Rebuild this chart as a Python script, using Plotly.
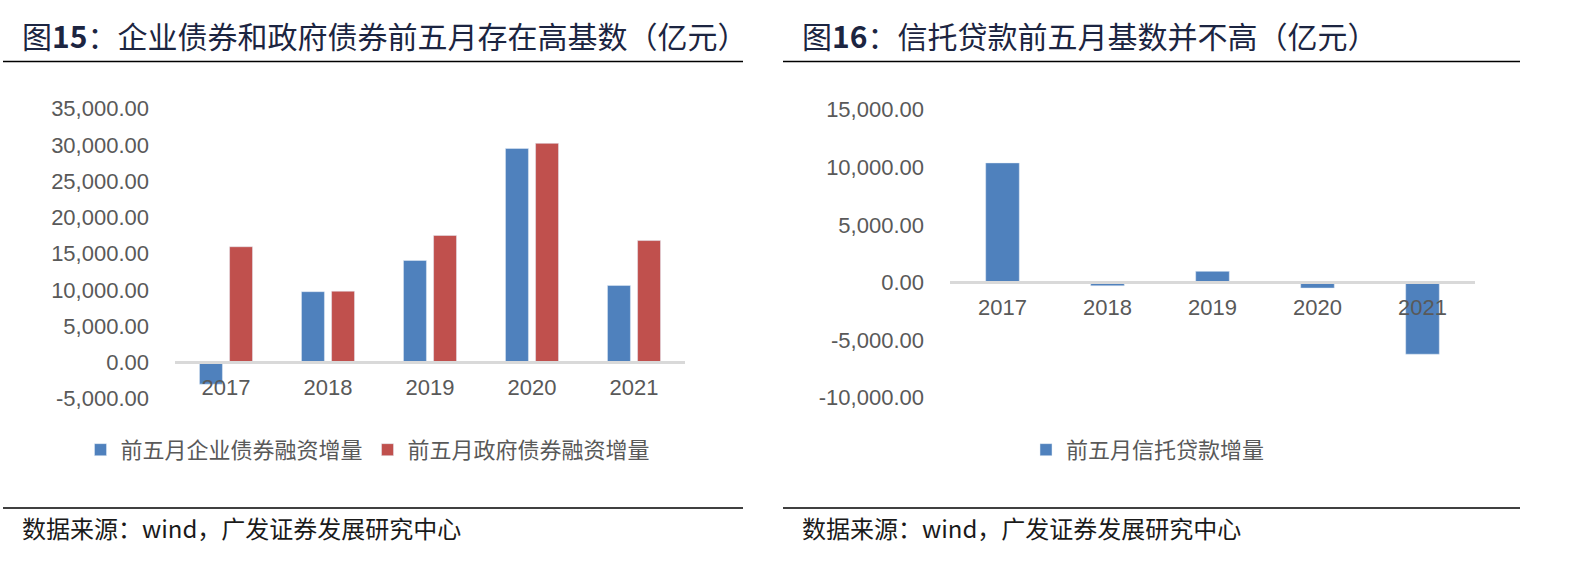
import plotly.graph_objects as go

# ---------------- data ----------------
years = ["2017", "2018", "2019", "2020", "2021"]
corp_bond = [-3000, 9750, 14050, 29500, 10600]      # 前五月企业债券融资增量
gov_bond = [15950, 9820, 17500, 30200, 16800]       # 前五月政府债券融资增量
trust_loan = [10370, -290, 960, -490, -6230]        # 前五月信托贷款增量

left_tickvals = [-5000, 0, 5000, 10000, 15000, 20000, 25000, 30000, 35000]
left_ticktext = ["-5,000.00", "0.00", "5,000.00", "10,000.00", "15,000.00",
                 "20,000.00", "25,000.00", "30,000.00", "35,000.00"]
right_tickvals = [-10000, -5000, 0, 5000, 10000, 15000]
right_ticktext = ["-10,000.00", "-5,000.00", "0.00", "5,000.00", "10,000.00", "15,000.00"]

name_corp = "前五月企业债券融资增量"
name_gov = "前五月政府债券融资增量"
name_trust = "前五月信托贷款增量"

title_left = "图<b>15</b>：企业债券和政府债券前五月存在高基数（亿元）"
title_right = "图<b>16</b>：信托贷款前五月基数并不高（亿元）"
source_text = "数据来源：wind，广发证券发展研究中心"

# ---------------- layout helpers ----------------
W, H = 1570, 576


def fx(p):
    return p / W


def fy(p):
    # pixel row (from top) -> paper fraction, with a small vertical calibration
    q = (p - 10.8) / 0.953
    return 1 - q / H


BLUE = "#4f81bd"
RED = "#c0504d"
TICK_COLOR = "#595959"
NUM_FONT = "Liberation Sans, Arial, sans-serif"
CJK_FONT = "Noto Sans CJK SC, sans-serif"

L_YR = [-5000, 35000]
R_YR = [-10000, 15000]
L_YD = [fy(396), fy(107)]
R_YD = [fy(395), fy(108)]


def zero_pos(dom, rng):
    return dom[0] + (dom[1] - dom[0]) * (0 - rng[0]) / (rng[1] - rng[0])


fig = go.Figure()
fig.add_trace(go.Bar(x=years, y=corp_bond, name=name_corp, marker_color=BLUE,
                     width=0.225, offset=-0.26, xaxis="x", yaxis="y", legend="legend"))
fig.add_trace(go.Bar(x=years, y=gov_bond, name=name_gov, marker_color=RED,
                     width=0.225, offset=0.035, xaxis="x", yaxis="y", legend="legend"))
fig.add_trace(go.Bar(x=years, y=trust_loan, name=name_trust, marker_color=BLUE,
                     width=0.32, offset=-0.16, xaxis="x2", yaxis="y2", legend="legend2"))

xcommon = dict(type="category", range=[-0.5, 4.5], showgrid=False, zeroline=False,
               showline=True, linecolor="#d9d9d9", linewidth=2.5, ticks="",
               tickfont=dict(family=NUM_FONT, size=22, color=TICK_COLOR),
               ticklabelstandoff=4, anchor="free", fixedrange=True)
ycommon = dict(showgrid=False, zeroline=False, showline=False, ticks="",
               tickfont=dict(family=NUM_FONT, size=22, color=TICK_COLOR),
               ticklabelstandoff=25, fixedrange=True)

fig.update_layout(
    width=W, height=H,
    margin=dict(l=0, r=0, t=0, b=0),
    paper_bgcolor="white", plot_bgcolor="white",
    barmode="overlay",
    showlegend=True,
    xaxis=dict(xcommon, domain=[fx(175), fx(685)], position=zero_pos(L_YD, L_YR)),
    yaxis=dict(ycommon, domain=L_YD, range=L_YR, tickvals=left_tickvals,
               ticktext=left_ticktext, anchor="x"),
    xaxis2=dict(xcommon, domain=[fx(950), fx(1475)], position=zero_pos(R_YD, R_YR)),
    yaxis2=dict(ycommon, domain=R_YD, range=R_YR, tickvals=right_tickvals,
                ticktext=right_ticktext, anchor="x2"),
    legend=dict(orientation="h", x=fx(368), xanchor="center", y=fy(447), yanchor="middle",
                font=dict(family=CJK_FONT, size=22, color=TICK_COLOR),
                bgcolor="rgba(0,0,0,0)", itemwidth=30, tracegroupgap=0),
    legend2=dict(orientation="h", x=fx(1148), xanchor="center", y=fy(447), yanchor="middle",
                 font=dict(family=CJK_FONT, size=22, color=TICK_COLOR),
                 bgcolor="rgba(0,0,0,0)", itemwidth=30),
)

TITLE_COLOR = "#1c2541"
for x0, txt in [(20, title_left), (800, title_right)]:
    fig.add_annotation(xref="paper", yref="paper", x=fx(x0), y=fy(34), xanchor="left",
                       yanchor="middle", text=txt, showarrow=False,
                       font=dict(family=CJK_FONT, size=30, color=TITLE_COLOR))
for x0 in [20, 800]:
    fig.add_annotation(xref="paper", yref="paper", x=fx(x0), y=fy(524), xanchor="left",
                       yanchor="middle", text=source_text, showarrow=False,
                       font=dict(family=CJK_FONT, size=24, color="#1a1a1a"))

for (a, b) in [(3, 743), (783, 1520)]:
    for yy in [60, 505]:
        fig.add_shape(type="line", xref="paper", yref="paper", x0=fx(a), x1=fx(b),
                      y0=fy(yy), y1=fy(yy), line=dict(color="black", width=1.5))

fig.write_html("out.html",
               config={"displayModeBar": False},
               post_script="document.body.style.margin='0';document.body.style.overflow='hidden';")
